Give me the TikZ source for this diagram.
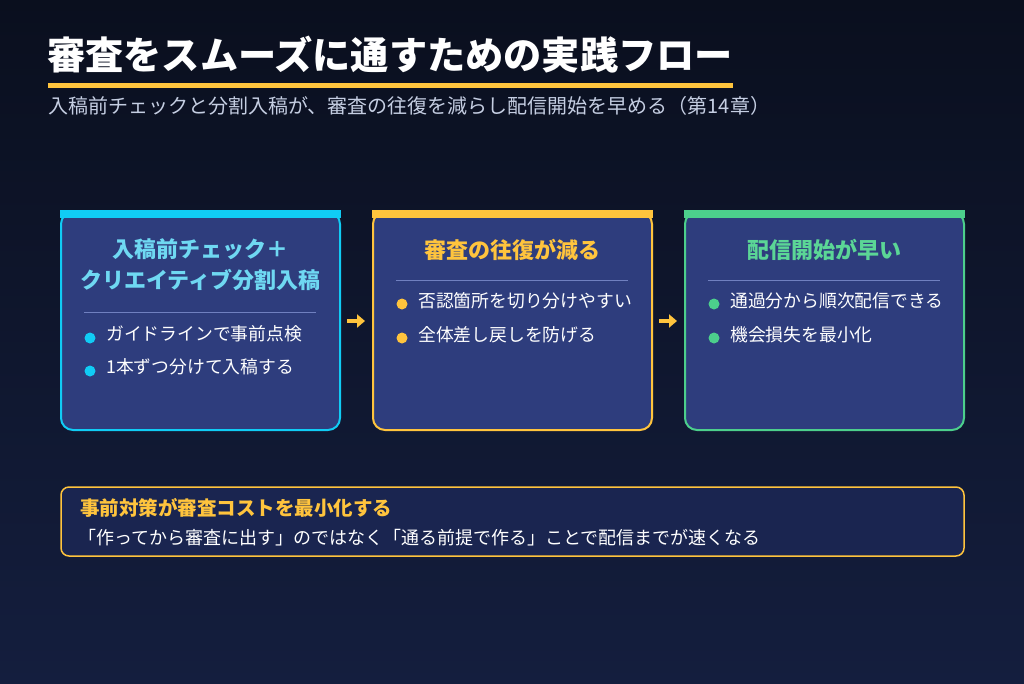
\documentclass[tikz,border=0pt]{standalone}
\usepackage{fontspec}
\setmainfont{Noto Sans CJK JP}
\usetikzlibrary{arrows.meta}
\definecolor{bgtop}{HTML}{0A0F1E}
\definecolor{bgbot}{HTML}{141E3E}
\definecolor{cardfill}{HTML}{2E3D7D}
\definecolor{cyanc}{HTML}{10CCF5}
\definecolor{cyant}{HTML}{6FD8F2}
\definecolor{yelc}{HTML}{FFC43D}
\definecolor{greenc}{HTML}{4CCF8C}
\definecolor{greent}{HTML}{5BD696}
\definecolor{subc}{HTML}{C5CEE2}
\definecolor{divc}{HTML}{7080C0}
\definecolor{notefill}{HTML}{1A2550}
\begin{document}
\begin{tikzpicture}[x=1pt,y=-1pt,
  card/.style={draw=#1,line width=2pt,fill=cardfill,rounded corners=12pt},
  ctitle/.style={text=#1,font=\fontsize{22}{28}\selectfont\bfseries,align=center,inner sep=0pt},
  item/.style={text=white,font=\fontsize{17.8}{20}\selectfont,anchor=base west,inner sep=0pt},
  dot/.style={circle,fill=#1,minimum size=11pt,inner sep=0pt},
  divl/.style={draw=divc,line width=0.8pt},
  flow/.style={draw=yelc,line width=4.5pt,-{Triangle[length=8pt,width=13pt]},shorten <=6pt,shorten >=7pt}]
\fill[top color=bgtop,bottom color=bgbot] (0,0) rectangle (1024,683);
\useasboundingbox (0,0) rectangle (1024,683);
% title
\node[anchor=base west,inner sep=0pt,text=white,font=\fontsize{38.2}{44}\selectfont\bfseries] (title) at (47,69) {審査をスムーズに通すための実践フロー};
\fill[yelc] (48,83) rectangle (733,88);
\node[anchor=base west,inner sep=0pt,text=subc,font=\fontsize{20}{22}\selectfont] (sub) at (48,113) {入稿前チェックと分割入稿が、審査の往復を減らし配信開始を早める（第14章）};
% cards
\node[card=cyanc,minimum width=279pt,minimum height=218pt,inner sep=0pt] (c1) at (200.5,321) {};
\node[card=yelc,minimum width=279pt,minimum height=218pt,inner sep=0pt] (c2) at (512.5,321) {};
\node[card=greenc,minimum width=279pt,minimum height=218pt,inner sep=0pt] (c3) at (824.5,321) {};
\fill[cyanc] (60,210) rectangle (341,218);
\fill[yelc] (372,210) rectangle (653,218);
\fill[greenc] (684,210) rectangle (965,218);
% card 1
\node[ctitle=cyant] (t1) at (200.5,265) {入稿前チェック＋\\[3pt]クリエイティブ分割入稿};
\draw[divl] (84,312) -- (316,312);
\node[dot=cyanc] (d11) at (90,338) {};
\node[item] (i11) at (106,340) {ガイドラインで事前点検};
\node[dot=cyanc] (d12) at (90,371) {};
\node[item] (i12) at (106,373) {1本ずつ分けて入稿する};
% card 2
\node[ctitle=yelc] (t2) at (512.5,250) {審査の往復が減る};
\draw[divl] (396,280) -- (628,280);
\node[dot=yelc] (d21) at (402,304) {};
\node[item] (i21) at (418,307) {否認箇所を切り分けやすい};
\node[dot=yelc] (d22) at (402,338) {};
\node[item] (i22) at (418,341) {全体差し戻しを防げる};
% card 3
\node[ctitle=greent] (t3) at (824.5,250) {配信開始が早い};
\draw[divl] (708,280) -- (940,280);
\node[dot=greenc] (d31) at (714,304) {};
\node[item] (i31) at (730,307) {通過分から順次配信できる};
\node[dot=greenc] (d32) at (714,338) {};
\node[item] (i32) at (730,341) {機会損失を最小化};
% arrows
\draw[flow] (c1.east) -- (c2.west);
\draw[flow] (c2.east) -- (c3.west);
% note
\node[draw=yelc,line width=1.5pt,fill=notefill,rounded corners=8pt,minimum width=903pt,minimum height=69pt,inner sep=0pt] (note) at (512.5,521.5) {};
\node[anchor=base west,inner sep=0pt,text=yelc,font=\fontsize{19.5}{22}\selectfont\bfseries] (nt) at (80,515) {事前対策が審査コストを最小化する};
\node[anchor=base west,inner sep=0pt,text=white,font=\fontsize{18}{20}\selectfont] (nb) at (78,544) {「作ってから審査に出す」のではなく「通る前提で作る」ことで配信までが速くなる};
\end{tikzpicture}
\end{document}
